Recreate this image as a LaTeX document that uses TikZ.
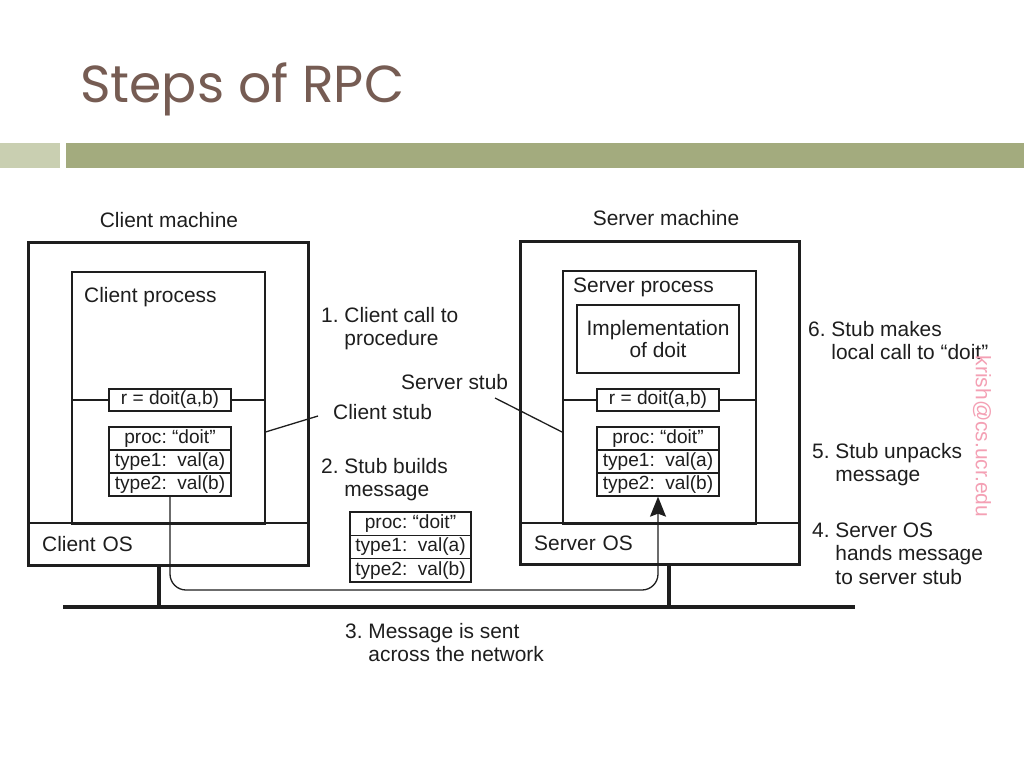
\documentclass[tikz,border=0pt]{standalone}
\usepackage{fontspec}
\setmainfont{Liberation Sans}
\newfontfamily\titlefont{Poppins}
\usetikzlibrary{arrows.meta}
\definecolor{titlecol}{RGB}{118,92,83}
\definecolor{barlight}{RGB}{201,207,177}
\definecolor{bardark}{RGB}{163,171,126}
\definecolor{ink}{RGB}{30,30,30}
\definecolor{wmark}{RGB}{244,160,180}
\newcommand{\lblfont}{\fontsize{20.9}{23.5}\selectfont}
\newcommand{\fldfont}{\fontsize{19.1}{22}\selectfont}
\newcommand{\steptext}[1]{\begin{tabular}[t]{@{}l@{}}#1\end{tabular}}
\frenchspacing
\tikzset{
  machine/.style={draw=ink, line width=2.6pt, anchor=north west, inner sep=0pt},
  procbox/.style={draw=ink, line width=1.5pt, anchor=north west, inner sep=0pt},
  osbox/.style={anchor=north west, inner xsep=15pt, inner ysep=0pt, align=left, font=\lblfont, text=ink},
  field/.style={draw=ink, line width=1.3pt, minimum width=122pt, minimum height=23pt, inner sep=0pt, font=\fldfont, text=ink},
  lbl/.style={font=\lblfont, text=ink, inner sep=0pt, anchor=base west},
  pointer/.style={draw=ink, line width=1.3pt},
  net/.style={draw=ink, line width=4pt},
  msgpath/.style={draw=ink, line width=1.3pt, rounded corners=16pt, -{Stealth[length=20pt,width=16pt,inset=3pt]}},
}
\begin{document}
\frenchspacing
\begin{tikzpicture}[x=1pt,y=-1pt]
\useasboundingbox (0,0) rectangle (1024,768);
\fill[white] (0,0) rectangle (1024,768);
% title and bars
\node[anchor=base west, inner sep=0pt, text=titlecol, font=\titlefont\fontsize{52}{60}\selectfont] (title) at (80,102) {Steps of RPC};
\fill[barlight] (0,143) rectangle (60,168);
\fill[bardark] (66,143) rectangle (1024,168);

% client machine
\node[osbox, minimum width=280pt, minimum height=41pt, text width=250pt] (cos) at (27,523) {Client OS};
\draw[line width=1.5pt, ink] (cos.north west) -- (cos.north east);
\node[procbox, minimum width=193pt, minimum height=252pt] (cp) at (71,271) {};
\node[machine, minimum width=280pt, minimum height=323pt] (cm) at (27,241) {};
\node[lbl, anchor=base] (cmlbl) at (169,227) {Client machine};
\node[lbl] (cplbl) at (84,302) {Client process};
\node[field, minimum height=22pt] (rc) at (170,400) {r = doit(a,b)};
\draw[line width=1.3pt, ink] (cp.west |- rc) -- (rc.west) (rc.east) -- (cp.east |- rc);
\node[field] (c1) at (170,438.5) {proc: “doit”};
\node[field] (c2) at (170,461.5) {type1:\ \ val(a)};
\node[field] (c3) at (170,484.5) {type2:\ \ val(b)};

% message in transit
\node[field, minimum width=121pt, minimum height=23.3pt] (m1) at (410.5,523.7) {proc: “doit”};
\node[field, minimum width=121pt, minimum height=23.3pt] (m2) at (410.5,547) {type1:\ \ val(a)};
\node[field, minimum width=121pt, minimum height=23.3pt] (m3) at (410.5,570.3) {type2:\ \ val(b)};

% server machine
\node[osbox, minimum width=279pt, minimum height=40pt, text width=249pt] (sos) at (519,523) {Server OS};
\draw[line width=1.5pt, ink] (sos.north west) -- (sos.north east);
\node[procbox, minimum width=193pt, minimum height=253pt] (sp) at (562,270) {};
\node[machine, minimum width=279pt, minimum height=323pt] (sm) at (519,240) {};
\node[lbl, anchor=base] (smlbl) at (666,225) {Server machine};
\node[lbl] (splbl) at (573,292) {Server process};
\node[draw=ink, line width=1.5pt, minimum width=162pt, minimum height=68pt, inner sep=0pt, align=center, font=\fontsize{20.9}{22.5}\selectfont, text=ink] (impl) at (658,339) {Implementation\\of doit};
\node[field, minimum height=22pt] (rs) at (658,400) {r = doit(a,b)};
\draw[line width=1.3pt, ink] (sp.west |- rs) -- (rs.west) (rs.east) -- (sp.east |- rs);
\node[field] (s1) at (658,438.5) {proc: “doit”};
\node[field] (s2) at (658,461.5) {type1:\ \ val(a)};
\node[field] (s3) at (658,484.5) {type2:\ \ val(b)};

% network
\coordinate (netL) at (63,607);
\coordinate (netR) at (855,607);
\coordinate (netc) at (159,607);
\coordinate (nets) at (669,607);
\draw[net] (netL) -- (netR);
\draw[net] (netc |- cm.south) -- (netc);
\draw[net] (nets |- sm.south) -- (nets);

% message path
\coordinate (route) at (400,590);
\draw[msgpath] (c3.south) -- (c3.south |- route) -| (s3.south);

% stub pointers
\coordinate (stubY) at (0,432);
\coordinate (cstub) at (318,416);
\coordinate (sstub) at (495,398);
\draw[pointer] (cp.east |- stubY) -- (cstub);
\draw[pointer] (sp.west |- stubY) -- (sstub);
\node[lbl] (cstublbl) at (333,419) {Client stub};
\node[lbl] (sstublbl) at (401,389) {Server stub};

% step descriptions
\node[lbl] (step1) at (321,322) {\steptext{1. Client call to\\\hphantom{1.\ }procedure}};
\node[lbl] (step2) at (321,473) {\steptext{2. Stub builds\\\hphantom{2.\ }message}};
\node[lbl] (step3) at (345,638) {\steptext{3. Message is sent\\\hphantom{3.\ }across the network}};
\node[lbl] (step4) at (812,537) {\steptext{4. Server OS\\\hphantom{4.\ }hands message\\\hphantom{4.\ }to server stub}};
\node[lbl] (step5) at (812,458) {\steptext{5. Stub unpacks\\\hphantom{5.\ }message}};
\node[lbl] (step6) at (808,336) {\steptext{6. Stub makes\\\hphantom{6.\ }local call to “doit”}};

% watermark
\node[rotate=-90, inner sep=0pt, text=wmark, font=\fontsize{21}{23}\selectfont] (wm) at (982,436.5) {krish@cs.ucr.edu};
\end{tikzpicture}
\end{document}
